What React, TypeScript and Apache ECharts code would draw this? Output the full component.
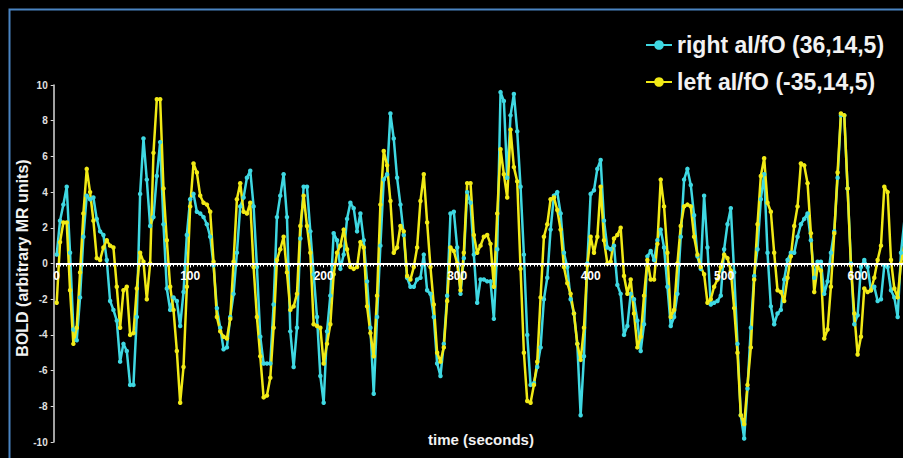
import React, { useEffect, useRef } from "react";
import * as echarts from "echarts";

const TR = 2.5; // seconds per sample

const rightAIFO = [
  0.5, 2.4, 3.3, 4.3, 0.6, -3.7, -4.3, -1.9, 1.5, 3.8,
  3.6, 3.7, 2.5, 1.8, 1.6, 0.2, -2.1, -2.6, -3.2, -5.5,
  -4.5, -4.9, -6.8, -6.8, -3.0, 3.9, 7.0, 4.7, 2.1, 2.6,
  4.9, 6.8, 2.2, -1.4, -2.6, -1.9, -2.1, -3.5, -1.6, 1.6,
  3.6, 3.9, 2.9, 2.8, 2.6, 2.2, 1.5, -0.1, -2.5, -3.6,
  -4.8, -4.7, -3.0, -1.7, 0.6, 3.2, 3.7, 4.8, 5.2, 3.2,
  -0.2, -4.1, -5.6, -5.6, -5.6, -2.3, 2.6, 3.8, 5.0, 2.6,
  -3.8, -5.8, -3.6, 1.4, 4.3, 4.3, 1.8, -0.6, -3.0, -6.3,
  -7.8, -3.8, -1.8, 1.7, 1.3, -0.3, 0.5, 2.5, 3.4, 3.1,
  1.8, 2.8, 1.3, -1.0, -3.6, -7.3, -3.0, 1.0, 4.7, 5.0,
  8.4, 7.0, 4.8, 3.3, 1.6, -0.8, -1.3, -1.3, -0.9, -0.8,
  0.5, -1.5, -1.7, -3.0, -5.6, -6.3, -4.5, -1.8, 2.8, 2.9,
  0.9, -1.7, 0.3, 4.0, 3.4, 0.5, -2.2, -0.9, -0.9, -1.0,
  -1.0, -3.1, 0.8, 9.6, 9.1, 4.8, 8.3, 9.5, 7.4, 4.3,
  0.5, -4.0, -6.8, -6.7, -5.8, -4.7, -2.0, -0.8, 1.9, 3.8,
  4.0, 2.8, 0.6, -0.2, -2.0, -2.8, -4.5, -8.5, -5.2, 0.0,
  3.9, 4.1, 5.3, 5.8, 2.4, 0.9, 0.8, 1.0, -1.2, -1.7,
  -4.0, -3.5, -1.7, -2.0, -3.2, -4.9, -3.4, 0.4, 0.7, 0.2,
  1.3, 1.9, 0.9, -1.3, -3.5, -3.0, -1.7, 1.5, 4.7, 5.3,
  4.4, 2.7, 0.4, -0.3, 3.8, 0.9, -2.3, -2.2, -2.1, -1.8,
  0.8, 2.2, 3.1, -0.5, -4.5, -8.5, -9.8, -7.0, -3.6, -0.7,
  0.8, 3.6, 5.0, 0.6, -2.4, -3.4, -2.8, -2.6, -0.9, 0.2,
  0.6, 0.6, 1.5, 2.2, 2.5, 2.8, 1.3, -0.8, 0.1, 0.1,
  -1.7, -1.0, 0.6, 1.8, 4.8, 8.3, 8.3, 4.2, 0.0, -3.4,
  -2.9, -0.2, 0.2, -0.2, -1.5, -1.3, -2.1, -2.0, -0.1, -0.2,
  -1.5, -1.9, -3.0, 0.6, 2.4,
];

const leftAIFO = [
  -2.2, 1.2, 2.3, 2.3, -1.5, -4.5, -3.6, -0.5, 2.8, 5.3,
  4.0, 2.4, 0.3, 0.2, 0.9, 1.3, 1.0, 0.9, -1.3, -3.6,
  -1.5, -1.3, -4.0, -3.9, -1.4, 0.6, 0.1, -2.0, 0.0, 6.2,
  9.2, 9.2, 4.2, 1.3, -1.3, -2.6, -4.9, -7.8, -5.8, -1.3,
  3.2, 5.6, 5.1, 3.8, 3.4, 3.3, 2.9, 0.1, -3.0, -3.8,
  -4.1, -4.2, -3.1, 0.1, 3.6, 4.5, 2.9, 2.8, 3.4, -0.2,
  -3.0, -5.2, -7.5, -7.4, -6.4, -3.6, 0.2, 0.8, 1.5, -0.5,
  -2.6, -2.4, -1.7, 2.1, 3.8, 2.1, 0.6, -3.4, -3.5, -3.6,
  -5.6, -4.5, -3.4, -0.6, 0.6, 1.0, 1.9, 0.8, -0.2, -0.3,
  -0.2, 1.2, 0.9, -2.4, -3.9, -5.2, -1.8, 3.3, 6.3, 5.5,
  3.5, 0.6, 0.9, 2.1, 1.8, -0.7, -0.9, -0.2, 0.9, 3.5,
  5.0, 2.3, -0.2, -2.3, -5.0, -5.5, -4.7, -2.1, 0.9, 0.7,
  0.0, -1.5, 0.6, 4.5, 4.5, 1.6, 0.6, 1.0, 1.5, 1.6,
  1.1, -1.3, 2.8, 6.4, 5.0, 3.7, 7.5, 5.4, 4.6, -0.3,
  -5.0, -7.7, -7.8, -6.8, -5.5, -1.9, 1.5, 2.2, 3.6, 3.7,
  3.0, 1.9, -0.2, -1.1, -1.7, -2.8, -4.5, -5.4, -3.6, -0.1,
  1.5, 0.6, 1.5, 4.3, 1.3, 0.0, 0.1, 1.4, 1.6, 2.0,
  -0.7, -1.7, -0.9, -2.8, -4.7, -4.1, -1.8, 0.2, -0.9, -0.9,
  1.1, 4.7, 3.2, 0.6, -3.0, -2.6, 0.0, 2.1, 3.2, 3.3,
  3.2, 1.5, 0.5, -0.2, -0.6, -2.2, -2.0, -1.3, -0.9, -0.2,
  0.5, 0.3, -0.4, -2.5, -5.0, -8.5, -9.0, -6.8, -4.7, -0.9,
  2.2, 4.9, 5.9, 3.4, 2.9, 0.6, -1.5, -1.6, -2.1, -0.8,
  0.4, 2.1, 3.2, 5.6, 5.5, 4.5, 1.7, -1.6, -0.2, -0.4,
  -4.2, -3.7, -1.3, 1.7, 5.1, 8.4, 8.3, 4.2, -0.1, -2.8,
  -5.1, -4.1, -1.4, -1.6, -1.5, -0.8, 0.2, 1.0, 4.3, 4.0,
  0.2, -1.4, -1.9, 0.0, 1.0,
];

const seriesNames = ["right aI/fO (36,14,5)", "left aI/fO (-35,14,5)"];
const seriesColors = ["#3fd8e2", "#f1ea16"];
const xTitle = "time (seconds)";
const yTitle = "BOLD (arbitrary MR units)";

const FONT = "'Liberation Sans', Arial, Helvetica, sans-serif";

export default function App() {
  const ref = useRef<HTMLDivElement>(null);

  useEffect(() => {
    if (!ref.current) return;
    const chart = echarts.init(ref.current, null, { renderer: "svg" });
    const toPairs = (vals: number[]) => vals.map((v, i) => [i * TR, v]);
    const mk = (name: string, vals: number[], color: string) => ({
      name,
      type: "line",
      data: toPairs(vals),
      symbol: "circle",
      symbolSize: 4.5,
      showSymbol: true,
      itemStyle: { color },
      lineStyle: { color, width: 2.5 },
      clip: true,
    });
    chart.setOption({
      animation: false,
      backgroundColor: "#000000",
      textStyle: { fontFamily: FONT },
      grid: { left: 56.7, right: 0, top: 85, bottom: 16, containLabel: false },
      legend: {
        orient: "vertical",
        left: 640,
        top: 28,
        itemWidth: 26,
        itemHeight: 12,
        itemGap: 13,
        textStyle: {
          color: "#f2f2f2",
          fontSize: 23,
          fontWeight: "bold",
          fontFamily: FONT,
          lineHeight: 24,
        },
        data: seriesNames,
      },
      xAxis: {
        type: "value",
        position: "bottom",
        offset: -178.5,
        z: 5,
        min: 0,
        max: 634,
        interval: 100,
        axisLine: { onZero: false, lineStyle: { color: "#ffffff", width: 2 } },
        axisTick: { show: true, length: 4, lineStyle: { color: "#ffffff", width: 1 } },
        minorTick: { show: true, splitNumber: 40, length: 3, lineStyle: { color: "#ffffff", width: 1 } },
        splitLine: { show: false },
        minorSplitLine: { show: false },
        axisLabel: {
          color: "#ffffff",
          fontSize: 12,
          fontWeight: "bold",
          margin: 6,
          fontFamily: FONT,
          showMinLabel: true,
          showMaxLabel: false,
          hideOverlap: false,
          formatter: (v: number) => (v > 600 ? "" : String(v)),
        },
      },
      yAxis: {
        type: "value",
        min: -10,
        max: 10,
        interval: 2,
        offset: 3,
        axisLine: { show: true, onZero: false, lineStyle: { color: "#d8d8d8", width: 1.5 } },
        axisTick: { show: true, length: 3, lineStyle: { color: "#d8d8d8" } },
        splitLine: { show: false },
        axisLabel: {
          color: "#e0e0e0",
          fontSize: 10,
          fontWeight: "bold",
          margin: 6,
          fontFamily: FONT,
        },
      },
      graphic: [
        {
          type: "rect",
          shape: { x: 9.5, y: 9.5, width: 1000, height: 1000 },
          style: { fill: "none", stroke: "#4a84c2", lineWidth: 2 },
          silent: true,
          z: 100,
        },
        {
          type: "text",
          x: 481,
          y: 439,
          style: {
            text: xTitle,
            fill: "#f2f2f2",
            font: `bold 15px ${FONT}`,
            align: "center",
            verticalAlign: "middle",
          },
        },
        {
          type: "text",
          x: 22,
          y: 258,
          rotation: Math.PI / 2,
          style: {
            text: yTitle,
            fill: "#f2f2f2",
            font: `bold 16px ${FONT}`,
            align: "center",
            verticalAlign: "middle",
          },
        },
      ],
      series: [
        mk(seriesNames[0], rightAIFO, seriesColors[0]),
        mk(seriesNames[1], leftAIFO, seriesColors[1]),
      ],
    });
    return () => chart.dispose();
  }, []);

  return (
    <div
      ref={ref}
      style={{ position: "fixed", left: 0, top: 0, width: 903, height: 458, background: "#000" }}
    />
  );
}
